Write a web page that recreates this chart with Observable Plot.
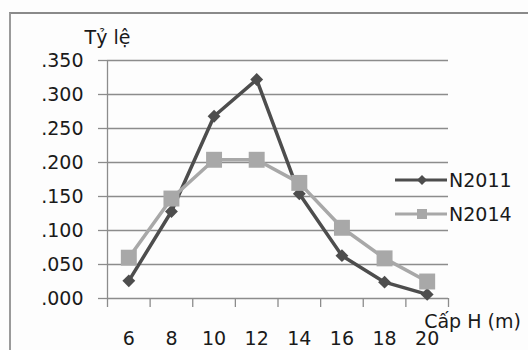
<!DOCTYPE html>
<html>
<head>
<meta charset="utf-8">
<script src="https://cdn.jsdelivr.net/npm/d3@7"></script>
<script src="https://cdn.jsdelivr.net/npm/@observablehq/plot@0.6"></script>
<style>
  body { margin: 0; background: #fdfdfd; font-family: "DejaVu Sans", sans-serif; }
  #wrap { position: relative; width: 528px; height: 350px; overflow: hidden; }
  #frame { position: absolute; left: 9px; top: 12px; width: 640px; height: 400px;
           border-left: 2px solid #9a9a9a; border-top: 2px solid #8a8a8a; box-sizing: border-box; }
  #chart { position: absolute; left: 0; top: 0; }
  .leg { position: absolute; left: 394px; display: flex; align-items: center; font-size: 19px; color: #1a1a1a; }
  .leg svg { margin-right: 1px; }
</style>
</head>
<body>
<div id="wrap">
  <div id="frame"></div>
  <div id="chart"></div>
  <div class="leg" style="top:168px"><svg width="54" height="24"><line x1="1" x2="53" y1="12" y2="12" stroke="#4d4d4d" stroke-width="3"/><path d="M28,7 L33,12 L28,17 L23,12 Z" fill="#4d4d4d"/></svg><span>N2011</span></div>
  <div class="leg" style="top:202px"><svg width="54" height="24"><line x1="1" x2="53" y1="12" y2="12" stroke="#a8a8a8" stroke-width="3"/><rect x="23" y="7" width="10" height="10" fill="#a8a8a8"/></svg><span>N2014</span></div>
</div>
<script>
const heights = [6, 8, 10, 12, 14, 16, 18, 20];
const n2011 = [0.026, 0.128, 0.268, 0.322, 0.154, 0.063, 0.024, 0.006];
const n2014 = [0.060, 0.147, 0.204, 0.204, 0.170, 0.104, 0.059, 0.025];
const yTicks = [0, 0.05, 0.1, 0.15, 0.2, 0.25, 0.3, 0.35];
const yTitle = "Tỷ lệ";
const xTitle = "Cấp H (m)";

const d2011 = heights.map((h, i) => ({h, v: n2011[i]}));
const d2014 = heights.map((h, i) => ({h, v: n2014[i]}));
const bounds = heights.map(h => h - 1).concat([heights[heights.length - 1] + 1]);
const fmt = v => d3.format(".3f")(v).replace(/^0/, "");

const grid = "#8c8c8c";
const dark = "#4d4d4d";
const light = "#a8a8a8";

const plot = Plot.plot({
  width: 528,
  height: 350,
  marginLeft: 107,
  marginRight: 80,
  marginTop: 60,
  marginBottom: 52,
  style: {fontFamily: "DejaVu Sans", fontSize: "19px", background: "transparent", overflow: "visible"},
  x: {type: "linear", domain: [5, 21]},
  y: {domain: [0, 0.35]},
  marks: [
    Plot.gridY(yTicks, {stroke: grid, strokeOpacity: 1, strokeWidth: 1.3}),
    Plot.axisY(yTicks, {tickSize: 9, tickPadding: 15, tickFormat: fmt, stroke: grid, fill: "#1a1a1a", label: null, strokeWidth: 1.3}),
    Plot.axisX(bounds, {tickSize: 9, tickFormat: () => "", stroke: grid, label: null, strokeWidth: 1.3}),
    Plot.axisX(heights, {tickSize: 0, tickPadding: 33, fill: "#1a1a1a", label: null}),
    Plot.ruleX([5], {stroke: grid, strokeWidth: 1.3}),
    Plot.line(d2011, {x: "h", y: "v", stroke: dark, strokeWidth: 3.5}),
    Plot.dot(d2011, {x: "h", y: "v", symbol: "diamond2", r: 5.8, fill: dark, stroke: "none"}),
    Plot.line(d2014, {x: "h", y: "v", stroke: light, strokeWidth: 3.5}),
    Plot.dot(d2014, {x: "h", y: "v", symbol: "square", r: 9, fill: light, stroke: "none"}),
    Plot.text([yTitle], {x: () => 5, y: () => 0.35, dy: -23, textAnchor: "middle", fill: "#1a1a1a"}),
    Plot.text([xTitle], {x: () => 21, y: () => 0, dx: 24, dy: 23, textAnchor: "middle", fill: "#1a1a1a"})
  ]
});
document.getElementById("chart").appendChild(plot);
</script>
</body>
</html>
